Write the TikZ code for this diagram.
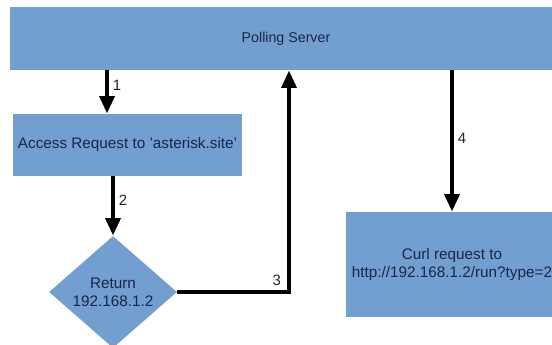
\documentclass[tikz,border=0pt]{standalone}
\usepackage{fontspec}
\setmainfont{Liberation Sans}
\usetikzlibrary{shapes.geometric,arrows.meta}
\definecolor{boxblue}{HTML}{729FCF}
\definecolor{boxtext}{HTML}{18264A}
\begin{document}
\begin{tikzpicture}[x=0.02cm,y=-0.02cm,
		box/.style={fill=boxblue,text=boxtext,inner sep=0pt,align=center,font=\fontsize{8.7}{10.2}\selectfont},
		flow/.style={line width=2.7pt,-{Triangle[width=0.29cm,length=0.35cm]}},
		num/.style={font=\fontsize{8.5}{10}\selectfont,text=black!85,inner sep=2pt}]
		\useasboundingbox(0,0)rectangle(552,345);
		\clip(0,0)rectangle(552,345);
		\node[box,minimum width=11.04cm,minimum height=1.26cm,font=\fontsize{8.1}{9.6}\selectfont](srv)at(286,38.5){Polling Server};
		\node[box,minimum width=4.58cm,minimum height=1.24cm](acc)at(127.5,145){Access Request to 'asterisk.site'};
		\node[box,diamond,minimum width=2.56cm,minimum height=2.24cm](ret)at(113,292){Return\\192.168.1.2};
		\node[box,minimum width=4.24cm,minimum height=2.1cm](curl)at(452,264.5){Curl request to\\http://192.168.1.2/run?type=2};
		\draw[flow](srv.south-|107,0)--node[num,right,pos=0.35]{1}(acc.north-|107,0);
		\draw[flow](acc.south-|ret.north)--node[num,right,pos=0.4]{2}(ret.north);
		\draw[flow](ret.east)-|node[num,above,pos=0.445]{3}(srv.south-|289,0);
		\draw[flow](srv.south-|curl.north)--node[num,right,pos=0.48]{4}(curl.north);
	\end{tikzpicture}
\end{document}
